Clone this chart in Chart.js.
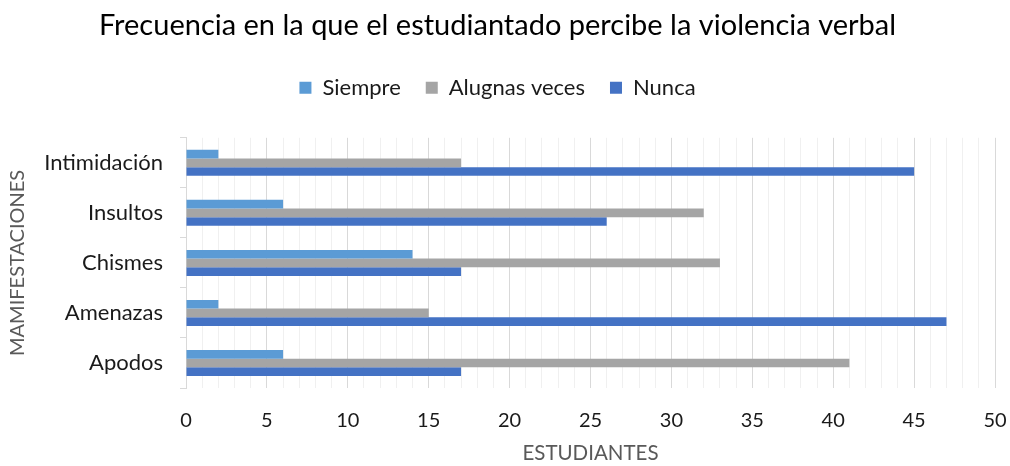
<!DOCTYPE html>
<html>
<head>
<meta charset="utf-8">
<script src="https://cdn.jsdelivr.net/npm/chart.js@4"></script>
<style>
  body { margin: 0; background: #fff; }
  #wrap { width: 1010px; height: 466px; position: relative; }
</style>
</head>
<body>
<div id="wrap"><canvas id="myChart"></canvas></div>
<script>
const categories = ['Intimidación', 'Insultos', 'Chismes', 'Amenazas', 'Apodos'];
const siempre = [2, 6, 14, 2, 6];
const algunas = [17, 32, 33, 15, 41];
const nunca = [45, 26, 17, 47, 17];

const FONT = 'Lato, "Open Sans", sans-serif';

const ctx = document.getElementById('myChart').getContext('2d');
new Chart(ctx, {
	type: 'bar',
	data: {
		labels: categories,
		datasets: [
			{label: 'Siempre', data: siempre, backgroundColor: '#5B9BD5'},
			{label: 'Alugnas veces', data: algunas, backgroundColor: '#A5A5A5'},
			{label: 'Nunca', data: nunca, backgroundColor: '#4472C4'}
		]
	},
	options: {
		indexAxis: 'y',
		responsive: true,
		maintainAspectRatio: false,
		animation: false,
		categoryPercentage: 0.52,
		barPercentage: 1,
		layout: {padding: {left: 0, right: 15, top: 0, bottom: 0}},
		plugins: {
			title: {
				display: true,
				text: 'Frecuencia en la que el estudiantado percibe la violencia verbal',
				color: '#000',
				font: {family: FONT, size: 29, weight: 'normal'},
				padding: {top: 8, bottom: 9}
			},
			legend: {
				position: 'top',
				labels: {
					boxWidth: 12,
					boxHeight: 12,
					padding: 25,
					color: '#1a1a1a',
					font: {family: FONT, size: 22}
				}
			},
			tooltip: {enabled: false}
		},
		scales: {
			x: {
				min: 0,
				max: 50,
				border: {display: false},
				grid: {
					drawTicks: false,
					color: (c) => (c.tick && c.tick.value % 5 === 0) ? '#d9d9d9' : '#f0f0f0'
				},
				ticks: {
					stepSize: 1,
					autoSkip: false,
					maxRotation: 0,
					padding: 21,
					color: '#1a1a1a',
					font: {family: FONT, size: 20},
					callback: (v) => v % 5 === 0 ? v : ''
				},
				title: {
					display: true,
					text: 'ESTUDIANTES',
					color: '#595959',
					font: {family: FONT, size: 20.5},
					padding: {top: 9, bottom: 0}
				},
				afterFit: (scale) => {
					scale.height = 78;
					scale.paddingLeft = 0;
					scale.paddingRight = 0;
				}
			},
			// empty spacer between legend and plot
			xTop: {
				position: 'top',
				display: true,
				border: {display: false},
				grid: {display: false},
				ticks: {display: false},
				afterFit: (scale) => {
					scale.height = 29;
					scale.paddingLeft = 0;
					scale.paddingRight = 0;
				}
			},
			y: {
				border: {display: true, color: '#d9d9d9'},
				grid: {
					offset: true,
					drawOnChartArea: false,
					drawTicks: true,
					tickLength: 6,
					color: '#d9d9d9'
				},
				ticks: {
					padding: 17,
					color: '#1a1a1a',
					font: {family: FONT, size: 22}
				},
				title: {
					display: true,
					text: 'MAMIFESTACIONES',
					color: '#595959',
					font: {family: FONT, size: 20},
					padding: {top: 6, bottom: 0}
				},
				afterFit: (scale) => {
					scale.width = 186;
					scale.paddingTop = 0;
					scale.paddingBottom = 0;
				}
			}
		}
	}
});
</script>
</body>
</html>
